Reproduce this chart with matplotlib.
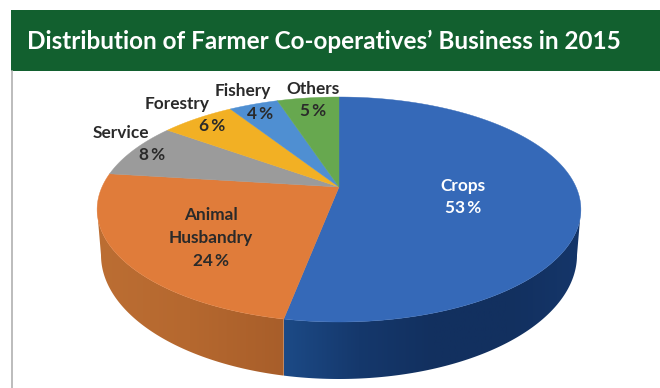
import numpy as np
import matplotlib
matplotlib.use("Agg")
import matplotlib.pyplot as plt
from matplotlib.colors import LinearSegmentedColormap
from matplotlib.patches import Polygon, Rectangle

title = "Distribution of Farmer Co-operatives’ Business in 2015"
sectors = ["Crops", "Animal\nHusbandry", "Service", "Forestry", "Fishery", "Others"]
shares = [53, 24, 8, 6, 4, 5]
top_colors = ["#3569b8", "#e07c3a", "#9b9b9b", "#f2b024", "#4f8fd2", "#67a84f"]
ink_colors = ["white", "#2a2a2a", "#2a2a2a", "#2a2a2a", "#2a2a2a", "#2a2a2a"]

# Pixel layout of the tilted disc: apex, perspective strength and radii.
CX, CY = 339.0, 187.0
PERSP, RX, RY = 0.2, 237.0, 108.0
# Lower rim of the extruded disc.
RIM_CY, RIM_RX, RIM_RY = 255.0, 238.0, 124.0

# Centre of each label block, or of the name and share when placed apart.
label_xy = [(463, 197), (211, 238), (121, 133), (177, 104), (243, 91), (313, 89)]
share_xy = [None, None, (152, 155), (212, 126), (260, 114), (313, 111)]

TITLE_FONT = "Lato"
LABEL_FONT = "Lato"


def disc_point(deg):
    """Project a clockwise-from-top angle on the disc rim to pixels."""
    a = np.radians(deg)
    s, t = np.sin(a), np.cos(a)
    d = 1 + PERSP * t
    return CX + RX * s / d, CY - RY * t / d


def rim_arc(x_split, side):
    """Lower rim points from the widest point down to x_split."""
    start = 0.0 if side > 0 else np.pi
    end = np.arccos((x_split - CX) / RIM_RX)
    phi = np.linspace(start, end, 120)
    return CX + RIM_RX * np.cos(phi), RIM_CY + RIM_RY * np.sin(phi)


def shaded_side(ax, pts, stops, x0, x1):
    """Fill a side wall with a horizontal gradient clipped to its outline."""
    cmap = LinearSegmentedColormap.from_list("wall", stops)
    ramp = np.linspace(0, 1, 256).reshape(1, -1)
    im = ax.imshow(ramp, cmap=cmap, extent=(x0, x1, 388, 0), aspect="auto", zorder=2)
    clip = Polygon(pts, closed=True, transform=ax.transData, fc="none", ec="none")
    ax.add_patch(clip)
    im.set_clip_path(clip)


fig = plt.figure(figsize=(6.6, 3.88), dpi=100, facecolor="white")
ax = fig.add_axes([0, 0, 1, 1])
ax.set_xlim(0, 660)
ax.set_ylim(388, 0)
ax.axis("off")

# Banner and the thin frame rule on the left.
ax.add_patch(Rectangle((11, 10), 649, 61, fc="#12602f", ec="none", zorder=1))
ax.plot([11.5, 11.5], [71, 388], color="#b0b0b0", lw=1.2, zorder=1)
ax.text(27, 41.5, title, color="white", fontsize=17.5, fontweight="bold",
        family=TITLE_FONT, ha="left", va="center", zorder=5)

# Slice boundaries in degrees, clockwise from twelve o'clock.
edges = np.cumsum([0] + shares) / sum(shares) * 360.0

# Side walls: the split between the two front slices runs straight down.
split_deg = edges[1]
split_x, split_y = disc_point(split_deg)
right_deg = np.degrees(np.arccos(-PERSP))
left_deg = 360 - right_deg

rx, ry = rim_arc(split_x, +1)
tx, ty = disc_point(np.linspace(split_deg, right_deg, 120))
shaded_side(ax, np.column_stack([np.r_[rx, tx], np.r_[ry, ty]]),
            ["#1c4a86", "#15386c", "#12305f", "#12305f", "#15366a"], split_x, 582)

lx, ly = rim_arc(split_x, -1)
tx, ty = disc_point(np.linspace(split_deg, left_deg, 120))
shaded_side(ax, np.column_stack([np.r_[lx, tx], np.r_[ly, ty]]),
            ["#bc6e33", "#b5682f", "#a85e2a"], 96, split_x)

# Top face: one wedge per sector.
for start, stop, color in zip(edges[:-1], edges[1:], top_colors):
    ax_, ay_ = disc_point(np.linspace(start, stop, 160))
    pts = np.column_stack([np.r_[CX, ax_], np.r_[CY, ay_]])
    ax.add_patch(Polygon(pts, closed=True, fc=color, ec=color, lw=0.3, zorder=3))

# Labels: a name with its share, stacked or placed separately.
for name, value, ink, xy, sxy in zip(sectors, shares, ink_colors, label_xy, share_xy):
    pct = f"{value}\u2009%"
    style = dict(color=ink, fontsize=12.4, fontweight="bold", family=[LABEL_FONT, "DejaVu Sans"],
                 ha="center", va="center", zorder=6)
    if sxy is None:
        ax.text(xy[0], xy[1], f"{name}\n{pct}", linespacing=1.5, **style)
    else:
        ax.text(xy[0], xy[1], name, **style)
        ax.text(sxy[0], sxy[1], pct, **style)

fig.savefig("out.png", dpi=100)
